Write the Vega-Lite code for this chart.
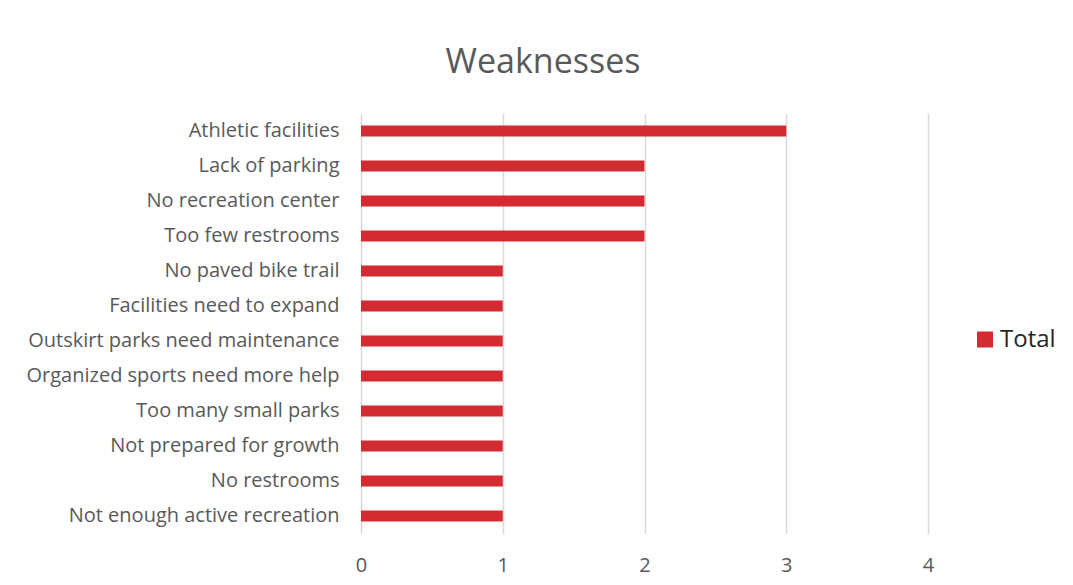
{
  "$schema": "https://vega.github.io/schema/vega-lite/v6.json",
  "width": 567,
  "height": 420,
  "autosize": {"type": "none"},
  "padding": {"left": 361, "top": 113.5, "right": 145, "bottom": 51.5},
  "background": "white",
  "title": {
    "text": "Weaknesses",
    "font": "Open Sans",
    "fontSize": 34,
    "fontWeight": "normal",
    "color": "#595959",
    "anchor": "middle",
    "frame": "bounds",
    "dx": 2,
    "offset": 34
  },
  "data": {
    "values": [
      {"category": "Athletic facilities", "value": 3, "series": "Total"},
      {"category": "Lack of parking", "value": 2, "series": "Total"},
      {"category": "No recreation center", "value": 2, "series": "Total"},
      {"category": "Too few restrooms", "value": 2, "series": "Total"},
      {"category": "No paved bike trail", "value": 1, "series": "Total"},
      {"category": "Facilities need to expand", "value": 1, "series": "Total"},
      {"category": "Outskirt parks need maintenance", "value": 1, "series": "Total"},
      {"category": "Organized sports need more help", "value": 1, "series": "Total"},
      {"category": "Too many small parks", "value": 1, "series": "Total"},
      {"category": "Not prepared for growth", "value": 1, "series": "Total"},
      {"category": "No restrooms", "value": 1, "series": "Total"},
      {"category": "Not enough active recreation", "value": 1, "series": "Total"}
    ]
  },
  "mark": {"type": "bar", "size": 11},
  "encoding": {
    "y": {
      "field": "category",
      "type": "nominal",
      "sort": null,
      "title": null,
      "axis": {
        "domain": false,
        "ticks": false,
        "grid": false,
        "labelPadding": 22,
        "labelFont": "Open Sans",
        "labelFontSize": 20,
        "labelColor": "#595959",
        "labelLimit": 400
      }
    },
    "x": {
      "field": "value",
      "type": "quantitative",
      "scale": {"domain": [0, 4]},
      "title": null,
      "axis": {
        "values": [0, 1, 2, 3, 4],
        "format": "d",
        "domain": false,
        "ticks": false,
        "grid": true,
        "gridColor": "#D9D9D9",
        "gridWidth": 1.5,
        "labelFlush": false,
        "labelPadding": 22,
        "labelFont": "Open Sans",
        "labelFontSize": 20,
        "labelColor": "#595959"
      }
    },
    "color": {
      "field": "series",
      "type": "nominal",
      "scale": {"range": ["#D42A32"]},
      "legend": {
        "title": null,
        "orient": "none",
        "legendX": 612,
        "legendY": 214,
        "symbolType": "square",
        "symbolSize": 256,
        "symbolStrokeWidth": 0,
        "labelFont": "Open Sans",
        "labelFontSize": 24,
        "labelColor": "#262626",
        "labelOffset": 3
      }
    }
  },
  "config": {
    "view": {"stroke": null}
  }
}
